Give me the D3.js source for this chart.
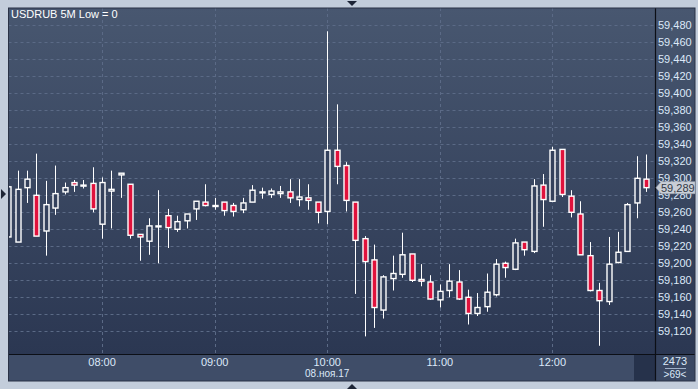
<!DOCTYPE html>
<html><head><meta charset="utf-8">
<script src="https://cdn.jsdelivr.net/npm/d3@7"></script>
<style>
html,body{margin:0;padding:0;background:#c3cddb;}
svg{display:block;}
text{font-family:"Liberation Sans",Arial,sans-serif;}
</style></head>
<body>
<svg id="chart" width="698" height="389"></svg>
<script>
// ---- data (5-minute bars, 07:10 .. 12:50) ----
const startTime = "07:10";
const opens  = [59231,59225,59289,59280,59238,59265,59284,59295,59291,59294,59246,59285,59304,59293,59234,59226,59243,59256,59240,59250,59264,59272,59267,59272,59268,59263,59272,59284,59281,59282,59284,59275,59277,59272,59261,59333,59315,59272,59229,59204,59145,59182,59187,59211,59181,59178,59157,59168,59178,59160,59141,59149,59163,59200,59193,59225,59214,59292,59273,59334,59279,59258,59209,59168,59155,59201,59214,59271,59299];
const highs  = [59295,59309,59309,59329,59297,59315,59295,59298,59298,59313,59301,59309,59306,59293,59234,59253,59286,59264,59256,59258,59273,59293,59277,59272,59271,59277,59292,59289,59288,59291,59299,59299,59293,59272,59473,59387,59319,59272,59232,59222,59186,59209,59236,59211,59199,59186,59175,59199,59192,59169,59165,59188,59205,59202,59229,59225,59299,59305,59337,59334,59286,59273,59225,59177,59231,59237,59271,59326,59328];
const lows   = [59227,59225,59271,59232,59209,59257,59281,59284,59288,59260,59229,59241,59277,59229,59203,59210,59200,59218,59237,59241,59251,59267,59263,59256,59255,59259,59272,59276,59277,59277,59271,59267,59263,59247,59246,59293,59261,59164,59114,59124,59135,59168,59183,59178,59173,59157,59148,59160,59157,59128,59138,59143,59161,59183,59192,59209,59212,59243,59273,59278,59254,59210,59167,59103,59151,59200,59214,59253,59284];
const closes = [59290,59287,59299,59232,59269,59282,59289,59292,59292,59264,59295,59287,59306,59233,59231,59244,59244,59242,59249,59258,59273,59268,59268,59262,59261,59271,59286,59284,59285,59284,59277,59278,59274,59260,59333,59314,59274,59227,59202,59148,59184,59188,59210,59180,59179,59158,59167,59179,59158,59141,59148,59166,59199,59195,59224,59216,59291,59275,59333,59281,59260,59210,59168,59156,59199,59213,59269,59300,59289];
const priceTicks = [59120,59140,59160,59180,59200,59220,59240,59260,59280,59300,59320,59340,59360,59380,59400,59420,59440,59460,59480];
const timeTicks = ["08:00","09:00","10:00","11:00","12:00"];
const dateLabel = "08.ноя.17";
const titleText = "USDRUB 5M Low = 0";
const lastPrice = 59289;
const volumeText = "2473";
const barsText = ">69<";

const toMin = s => { const [h,m] = s.split(":").map(Number); return h*60+m; };
const t0 = toMin(startTime);
const bars = opens.map((o,i)=>({t:t0+5*i,o,h:highs[i],l:lows[i],c:closes[i]}));

const svg = d3.select("#chart");
const L=8.5, R=655, T=8, B=354, BB=381, RR=695;

const defs = svg.append("defs");
const g1 = defs.append("linearGradient").attr("id","bg").attr("x1",0).attr("y1",0).attr("x2",0).attr("y2",1);
g1.append("stop").attr("offset","0%").attr("stop-color","#485770");
g1.append("stop").attr("offset","100%").attr("stop-color","#2b3752");
defs.append("clipPath").attr("id","clip").append("rect").attr("x",L).attr("y",T).attr("width",R-L).attr("height",B-T);

// panels
svg.append("rect").attr("x",L).attr("y",T).attr("width",RR-L).attr("height",B-T).attr("fill","url(#bg)");
svg.append("rect").attr("x",L).attr("y",B).attr("width",RR-L).attr("height",BB-B).attr("fill","#3f4d68");
svg.append("rect").attr("x",634).attr("y",B).attr("width",R-634).attr("height",BB-B).attr("fill","#26324b");
svg.append("rect").attr("x",R).attr("y",B).attr("width",RR-R).attr("height",BB-B).attr("fill","#3a4863");

const x = d3.scaleLinear().domain([430,775]).range([8.3,655.5]);
const y = d3.scaleLinear().domain([59120,59480]).range([331.3,25.3]);

// grid
const grid = svg.append("g").attr("stroke","#5b6a86").attr("stroke-dasharray","3,3").attr("stroke-width",1);
priceTicks.forEach(v=>{
  const yy = Math.round(y(v))+0.5;
  grid.append("line").attr("x1",L).attr("x2",R).attr("y1",yy).attr("y2",yy);
});
timeTicks.forEach(s=>{
  const xx = Math.round(x(toMin(s)))+0.5;
  grid.append("line").attr("x1",xx).attr("x2",xx).attr("y1",T).attr("y2",B);
});

// candles
const cg = svg.append("g").attr("clip-path","url(#clip)");
const bw = 5;
bars.forEach(d=>{
  const cx = Math.round(x(d.t))+0.5;
  cg.append("line").attr("x1",cx).attr("x2",cx).attr("y1",y(d.h)).attr("y2",y(d.l)).attr("stroke","#ffffff").attr("stroke-width",1);
  const top = y(Math.max(d.o,d.c)), bot = y(Math.min(d.o,d.c));
  const up = d.c >= d.o;
  cg.append("rect").attr("x",cx-bw/2).attr("y",top).attr("width",bw).attr("height",Math.max(bot-top,1))
    .attr("fill", up ? "#34415c" : "#e0123c").attr("stroke","#ffffff").attr("stroke-width",1.4);
});

// frame lines
svg.append("line").attr("x1",R+0.5).attr("x2",R+0.5).attr("y1",T).attr("y2",BB).attr("stroke","#0c0f16").attr("stroke-width",1.2);
svg.append("line").attr("x1",L).attr("x2",RR).attr("y1",B+0.5).attr("y2",B+0.5).attr("stroke","#0c0f16").attr("stroke-width",1.2);
svg.append("rect").attr("x",L).attr("y",T).attr("width",RR-L).attr("height",BB-T).attr("fill","none").attr("stroke","#2a3246").attr("stroke-width",1);

// price axis labels
const ly = y(lastPrice);
const pa = svg.append("g");
priceTicks.forEach(v=>{
  pa.append("text").attr("x",658).attr("y",y(v)+4).attr("font-size",11).attr("fill","#dce8f8").text(d3.format(",")(v));
});

// last price marker (partly covers the neighbouring labels, as in the original)
svg.append("path").attr("d",`M656,${ly} L661,${ly-6} L695,${ly-6} L695,${ly+6} L661,${ly+6} Z`).attr("fill","#c9ced6").attr("stroke","#9aa2ae").attr("stroke-width",0.6);
svg.append("text").attr("x",661).attr("y",ly+4).attr("font-size",11).attr("fill","#333a46").text(d3.format(",")(lastPrice));

// time labels
timeTicks.forEach(s=>{
  svg.append("text").attr("x",x(toMin(s))).attr("y",366).attr("text-anchor","middle").attr("font-size",11).attr("fill","#dce8f8").text(s);
});
svg.append("text").attr("x",x(toMin("10:00"))).attr("y",377).attr("text-anchor","middle").attr("font-size",10).attr("fill","#dce8f8").text(dateLabel);

// bottom right box
svg.append("text").attr("x",675).attr("y",365).attr("text-anchor","middle").attr("font-size",11).attr("fill","#dce8f8").text(volumeText);
svg.append("line").attr("x1",665).attr("x2",686).attr("y1",368.5).attr("y2",368.5).attr("stroke","#9fb0c8").attr("stroke-width",1);
svg.append("text").attr("x",675).attr("y",378).attr("text-anchor","middle").attr("font-size",10).attr("fill","#dce8f8").text(barsText);

// title
svg.append("text").attr("x",11).attr("y",18).attr("font-size",11).attr("fill","#ffffff").text(titleText);

// markers (triangles)
svg.append("path").attr("d","M347,1 L357,1 L352,6 Z").attr("fill","#1d2536");
svg.append("path").attr("d","M347,389 L357,389 L352,384 Z").attr("fill","#1d2536");
svg.append("path").attr("d","M1,189 L6,194 L1,199 Z").attr("fill","#1d2536");
</script>
</body></html>
